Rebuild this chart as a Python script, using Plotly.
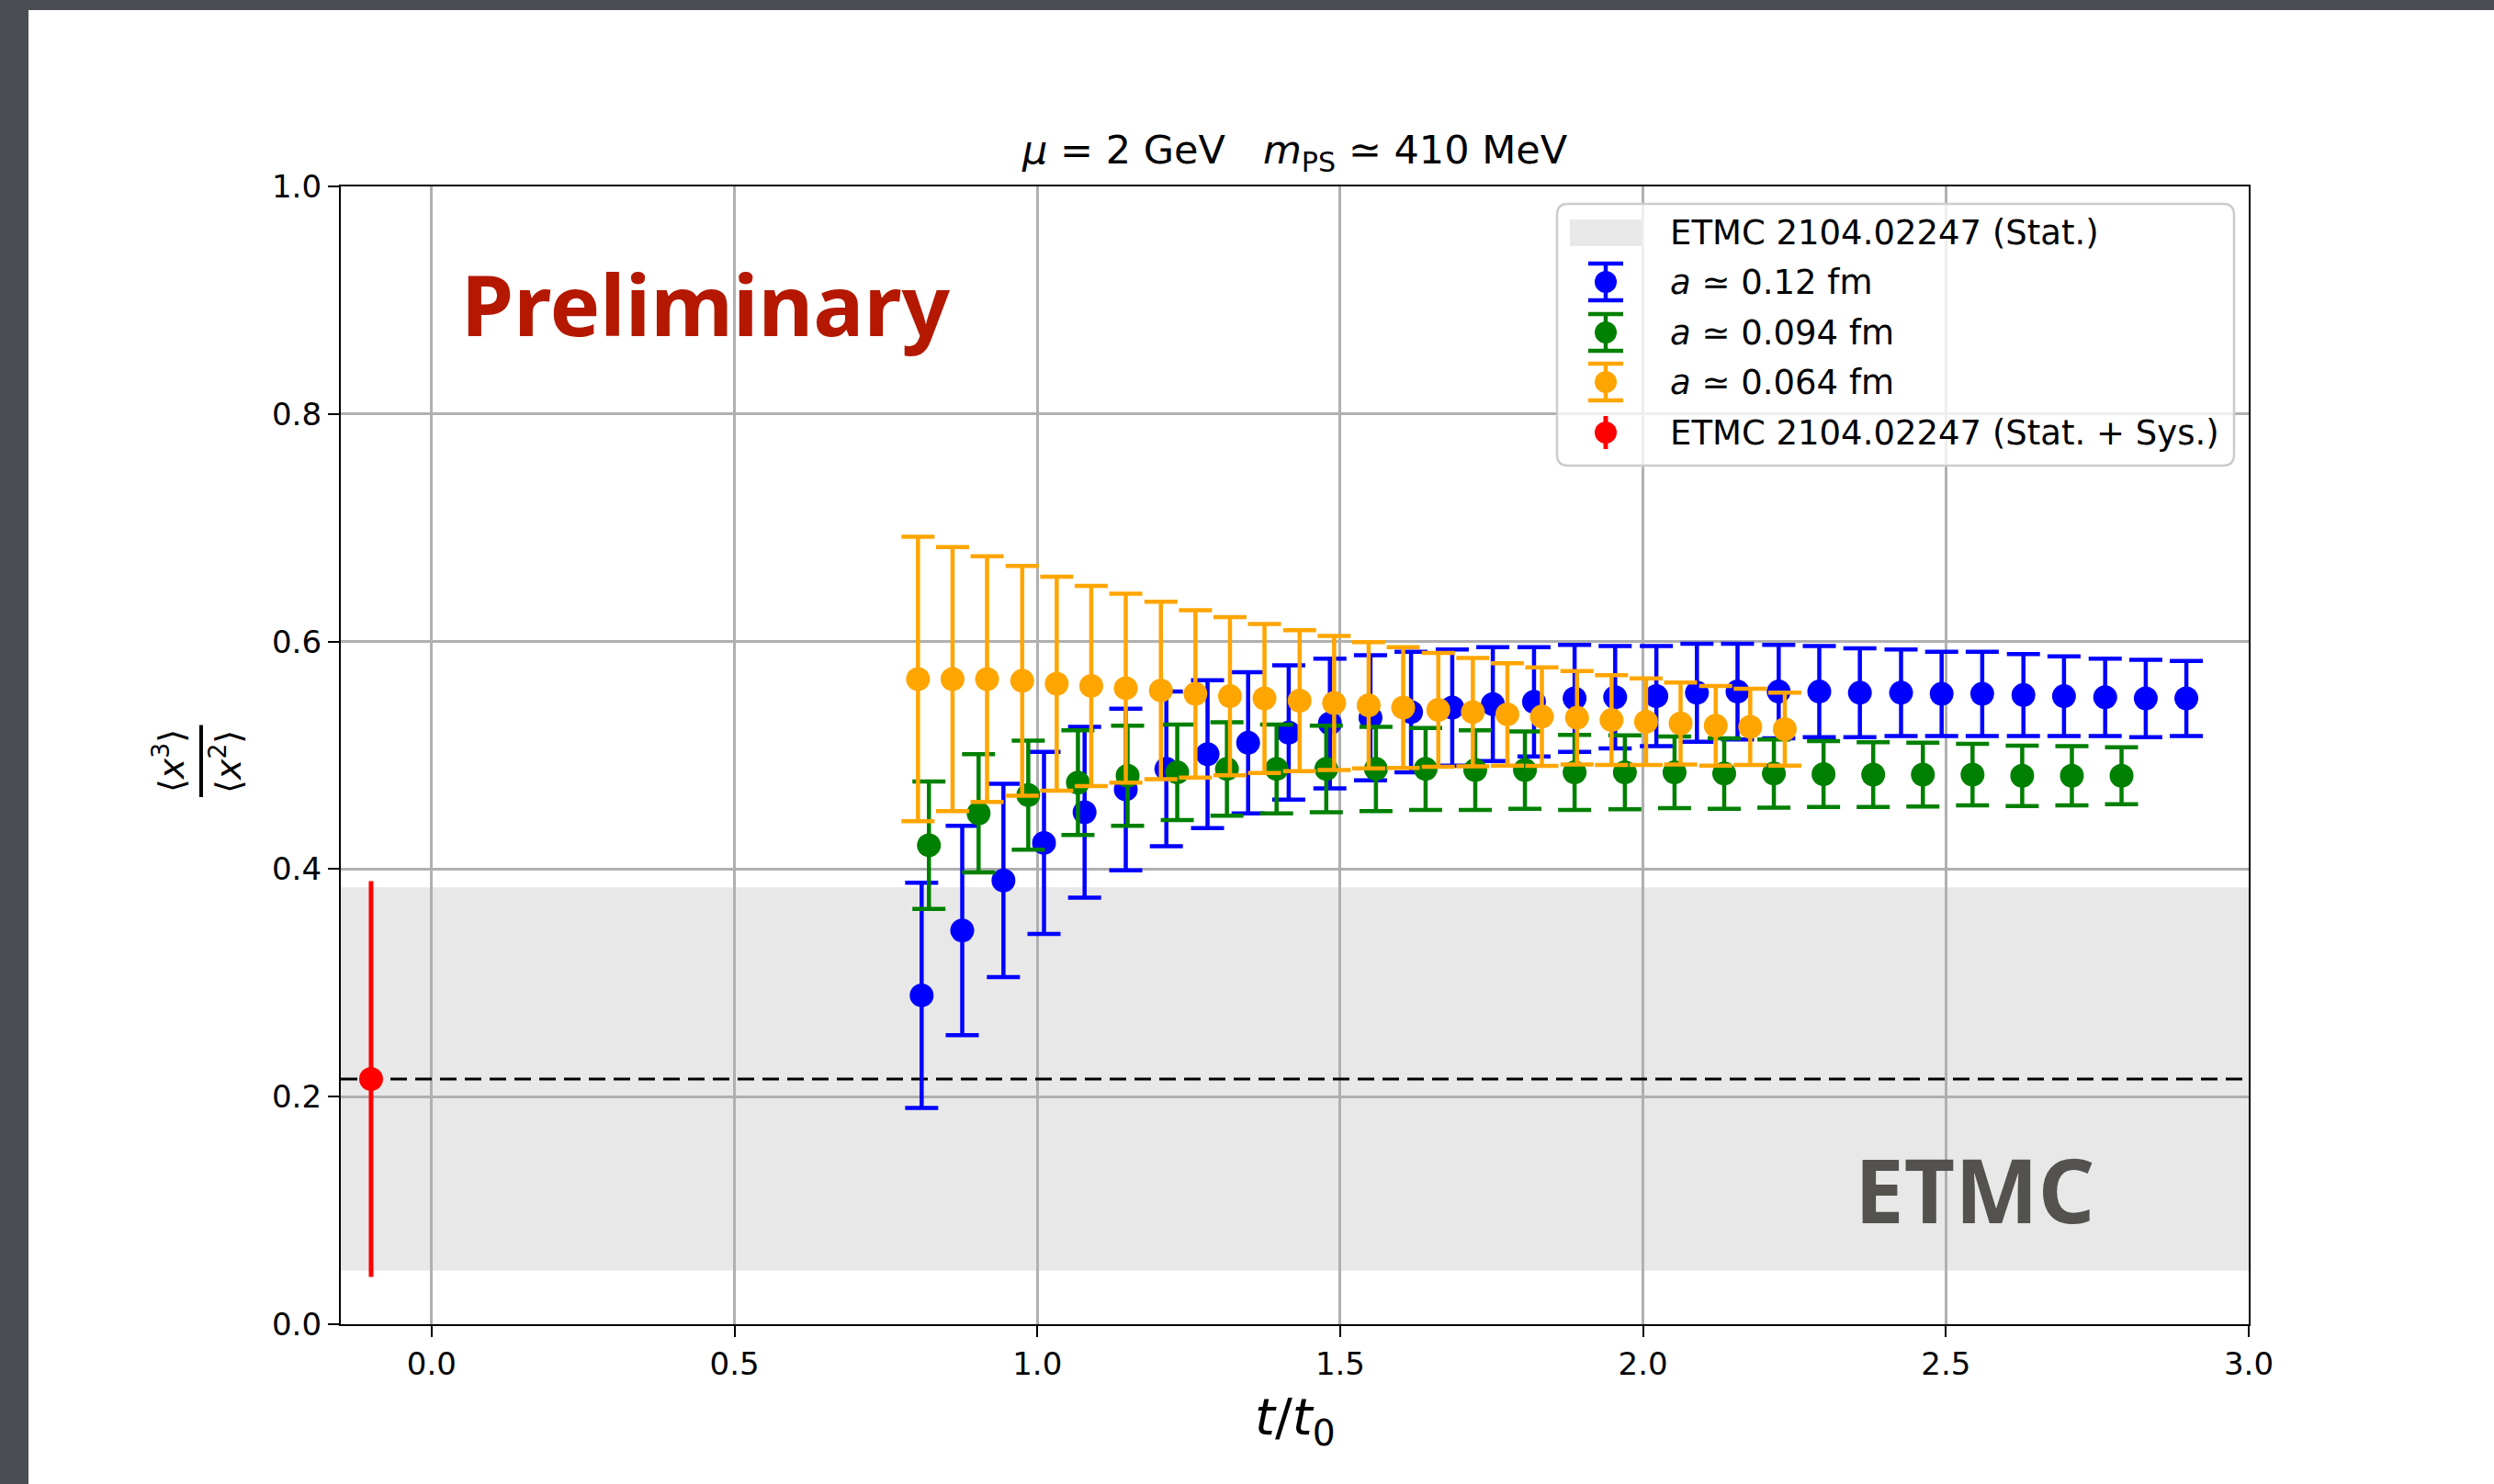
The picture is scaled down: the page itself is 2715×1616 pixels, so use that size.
import plotly.graph_objects as go

# ---------------- data ----------------
blue_x = [0.809, 0.876, 0.944, 1.011, 1.078, 1.146, 1.213, 1.281, 1.348, 1.415, 1.483, 1.550,
          1.617, 1.685, 1.752, 1.820, 1.887, 1.954, 2.022, 2.089, 2.156, 2.224, 2.291, 2.358,
          2.426, 2.493, 2.560, 2.628, 2.695, 2.763, 2.830, 2.897]
blue_y = [0.289, 0.346, 0.390, 0.423, 0.450, 0.470, 0.488, 0.501, 0.511, 0.520, 0.528, 0.533,
          0.538, 0.542, 0.545, 0.547, 0.550, 0.551, 0.552, 0.555, 0.556, 0.556, 0.556, 0.555,
          0.555, 0.554, 0.554, 0.553, 0.552, 0.551, 0.550, 0.550]
blue_err = [0.099, 0.092, 0.085, 0.080, 0.075, 0.071, 0.068, 0.065, 0.062, 0.059, 0.057, 0.055,
            0.053, 0.051, 0.050, 0.048, 0.047, 0.045, 0.044, 0.043, 0.042, 0.041, 0.040, 0.039,
            0.038, 0.037, 0.037, 0.036, 0.035, 0.034, 0.034, 0.033]

green_x = [0.821, 0.903, 0.985, 1.067, 1.149, 1.231, 1.313, 1.395, 1.477, 1.559, 1.641, 1.723,
           1.805, 1.887, 1.970, 2.052, 2.134, 2.216, 2.298, 2.380, 2.462, 2.544, 2.626, 2.708, 2.790]
green_y = [0.421, 0.449, 0.465, 0.476, 0.482, 0.485, 0.488, 0.488, 0.488, 0.488, 0.488, 0.487,
           0.487, 0.485, 0.485, 0.485, 0.484, 0.484, 0.4835, 0.483, 0.483, 0.483, 0.482, 0.482, 0.482]
green_err = [0.056, 0.052, 0.048, 0.046, 0.044, 0.042, 0.041, 0.039, 0.038, 0.037, 0.036, 0.035,
             0.034, 0.033, 0.0325, 0.0315, 0.031, 0.030, 0.029, 0.0285, 0.028, 0.027, 0.0265, 0.026, 0.025]

orange_x = [0.803, 0.860, 0.917, 0.975, 1.032, 1.089, 1.146, 1.204, 1.261, 1.318, 1.375, 1.433,
            1.490, 1.547, 1.604, 1.662, 1.719, 1.776, 1.833, 1.891, 1.948, 2.005, 2.062, 2.120,
            2.177, 2.234]
orange_y = [0.567, 0.567, 0.567, 0.5655, 0.563, 0.561, 0.559, 0.557, 0.554, 0.552, 0.550, 0.548,
            0.546, 0.544, 0.542, 0.540, 0.538, 0.536, 0.534, 0.533, 0.531, 0.5295, 0.528, 0.526,
            0.525, 0.523]
orange_err = [0.125, 0.116, 0.108, 0.101, 0.094, 0.088, 0.083, 0.078, 0.0735, 0.0695, 0.0655, 0.062,
              0.059, 0.0555, 0.053, 0.050, 0.0476, 0.045, 0.0433, 0.041, 0.0394, 0.038, 0.036, 0.035,
              0.0335, 0.032]

ref_x = [-0.10]
ref_y = [0.2155]
ref_err = [0.174]
ref_line_y = 0.2155
band_lo = 0.047
band_hi = 0.384

x_range = [-0.15, 3.0]
y_range = [0.0, 1.0]
x_ticks = [0.0, 0.5, 1.0, 1.5, 2.0, 2.5, 3.0]
y_ticks = [0.0, 0.2, 0.4, 0.6, 0.8, 1.0]

names = ["ETMC 2104.02247 (Stat.)", "<i>a</i> ≃ 0.12 fm", "<i>a</i> ≃ 0.094 fm",
         "<i>a</i> ≃ 0.064 fm", "ETMC 2104.02247 (Stat. + Sys.)"]

# ---------------- figure ----------------
FONT = "DejaVu Sans"
BAND = "#e8e8e8"
BLUE, GREEN, ORANGE, RED = "#0000ff", "#008000", "#ffa500", "#ff0000"
MS = 26
W, H = 2715, 1616
ML, MR, MT, MB = 371, 267, 203, 174
PW, PH = W - ML - MR, H - MT - MB


def px(x):  # page pixel -> paper x
    return (x - ML) / PW


def py(y):  # page pixel -> paper y
    return (H - MB - y) / PH


fig = go.Figure()

# dashed reference line
fig.add_trace(go.Scatter(x=x_range, y=[ref_line_y, ref_line_y], mode="lines",
                         line=dict(color="black", width=3, dash="18px,9px"),
                         showlegend=False, hoverinfo="skip"))


def series(x, y, err, color, name):
    return go.Scatter(
        x=x, y=y, mode="markers", name=name, showlegend=False,
        marker=dict(color=color, size=MS, symbol="circle", line=dict(width=0)),
        error_y=dict(type="data", array=err, visible=True, color=color, thickness=4.5, width=18),
    )


fig.add_trace(series(blue_x, blue_y, blue_err, BLUE, names[1]))
fig.add_trace(series(green_x, green_y, green_err, GREEN, names[2]))
fig.add_trace(series(orange_x, orange_y, orange_err, ORANGE, names[3]))
fig.add_trace(go.Scatter(
    x=ref_x, y=ref_y, mode="markers", name=names[4], showlegend=False,
    marker=dict(color=RED, size=MS, symbol="circle"),
    error_y=dict(type="data", array=ref_err, visible=True, color=RED, thickness=5, width=0),
))

axis_common = dict(
    showline=True, mirror=True, linecolor="black", linewidth=2.3,
    ticks="outside", ticklen=12, tickwidth=2.3, tickcolor="black",
    showgrid=True, gridcolor="#b0b0b0", gridwidth=2.5, zeroline=False,
    tickfont=dict(family=FONT, size=34, color="black"), tickformat=".1f",
)

fig.update_layout(
    width=W, height=H,
    margin=dict(l=ML, r=MR, t=MT, b=MB, pad=0),
    paper_bgcolor="white", plot_bgcolor="white",
    xaxis=dict(range=x_range, tickvals=x_ticks, **axis_common),
    yaxis=dict(range=y_range, tickvals=y_ticks, **axis_common),
    showlegend=False,
)

# band of ETMC stat. error (below grid)
fig.add_shape(type="rect", xref="x", yref="y", x0=x_range[0], x1=x_range[1],
              y0=band_lo, y1=band_hi, fillcolor=BAND, line=dict(width=0), layer="below")

# dark slide border (top + left)
fig.add_shape(type="rect", xref="paper", yref="paper", x0=-0.3, x1=px(31), y0=-0.3, y1=1.3,
              fillcolor="#4a4d53", line=dict(width=0), layer="above")
fig.add_shape(type="rect", xref="paper", yref="paper", x0=-0.3, x1=1.3, y0=py(11), y1=1.3,
              fillcolor="#4a4d53", line=dict(width=0), layer="above")

# ---------------- legend (matplotlib style box) ----------------
bx0, bx1, by0, by1 = px(1695), px(2432), py(222), py(507)
rx, ry = 12 / PW, 12 / PH
box_path = (f"M{bx0+rx},{by0} L{bx1-rx},{by0} Q{bx1},{by0} {bx1},{by0-ry} "
            f"L{bx1},{by1+ry} Q{bx1},{by1} {bx1-rx},{by1} L{bx0+rx},{by1} "
            f"Q{bx0},{by1} {bx0},{by1+ry} L{bx0},{by0-ry} Q{bx0},{by0} {bx0+rx},{by0} Z")
fig.add_shape(type="path", xref="paper", yref="paper", path=box_path,
              fillcolor="rgba(255,255,255,0.8)", line=dict(color="#cccccc", width=2.5), layer="above")

row_y = [253.5, 307, 362, 416, 471]
icon_x = px(1748)
text_x = px(1816)

# band icon
fig.add_shape(type="rect", xref="paper", yref="paper", xsizemode="pixel", ysizemode="pixel",
              xanchor=icon_x, yanchor=py(row_y[0]), x0=-39, x1=39, y0=-14.5, y1=14.5,
              fillcolor=BAND, line=dict(width=0), layer="above")


def err_icon(yc, color, caps=True, half=20, cap=19, lw=4.5):
    kw = dict(xref="paper", yref="paper", xsizemode="pixel", ysizemode="pixel",
              xanchor=icon_x, yanchor=py(yc), layer="above")
    fig.add_shape(type="line", x0=0, x1=0, y0=-half, y1=half, line=dict(color=color, width=lw), **kw)
    if caps:
        for s in (-half, half):
            fig.add_shape(type="line", x0=-cap, x1=cap, y0=s, y1=s, line=dict(color=color, width=lw), **kw)
    fig.add_shape(type="circle", x0=-12, x1=12, y0=-12, y1=12, fillcolor=color,
                  line=dict(width=0), **kw)


err_icon(row_y[1], BLUE)
err_icon(row_y[2], GREEN)
err_icon(row_y[3], ORANGE)
err_icon(row_y[4], RED, caps=False, half=18, lw=5)

for name, yc in zip(names, row_y):
    fig.add_annotation(xref="paper", yref="paper", x=text_x, y=py(yc), xanchor="left",
                       yanchor="middle", text=name, showarrow=False,
                       font=dict(family=FONT, size=37, color="black"))

# title
fig.add_annotation(xref="paper", yref="paper", x=0.5, y=py(166), xanchor="center", yanchor="middle",
                   text="<i>μ</i> = 2 GeV   <i>m</i><sub>PS</sub> ≃ 410 MeV", showarrow=False,
                   font=dict(family=FONT, size=43, color="black"))
# x label
fig.add_annotation(xref="paper", yref="paper", x=0.5, y=-0.084, xanchor="center", yanchor="middle",
                   text="<i>t</i>/<i>t</i><sub>0</sub>", showarrow=False,
                   font=dict(family=FONT, size=56, color="black"))
# y label as a rotated fraction
fig.add_annotation(xref="paper", yref="paper", x=-0.090, y=0.4948, xanchor="center", yanchor="middle",
                   text="⟨<i>x</i><sup>3</sup>⟩", textangle=-90, showarrow=False,
                   font=dict(family=FONT, size=38, color="black"))
fig.add_annotation(xref="paper", yref="paper", x=-0.0602, y=0.4948, xanchor="center", yanchor="middle",
                   text="⟨<i>x</i><sup>2</sup>⟩", textangle=-90, showarrow=False,
                   font=dict(family=FONT, size=38, color="black"))
fig.add_shape(type="line", xref="paper", yref="paper", x0=-0.0732, x1=-0.0732, y0=0.4633, y1=0.5266,
              line=dict(color="black", width=4))

# watermark texts
fig.add_annotation(xref="x", yref="y", x=0.045, y=0.897, xanchor="left", yanchor="middle",
                   text="<b>Preliminary</b>", showarrow=False,
                   font=dict(family="Noto Sans", size=92, color="#b41800"))
fig.add_annotation(xref="x", yref="y", x=2.548, y=0.119, xanchor="center", yanchor="middle",
                   text="<b>ETMC</b>", showarrow=False,
                   font=dict(family="Noto Sans", size=96, color="#54524e"))

fig.write_html("out.html", config={"displayModeBar": False},
               post_script="document.body.style.margin='0';")
